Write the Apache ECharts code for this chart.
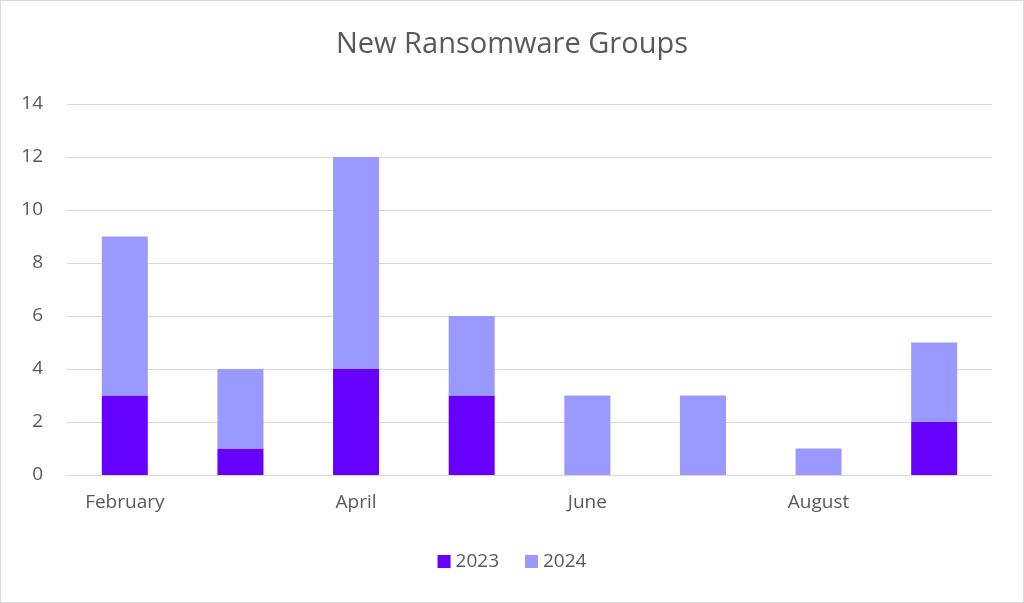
<!DOCTYPE html>
<html>
<head>
<meta charset="utf-8">
<script src="https://cdn.jsdelivr.net/npm/echarts@6/dist/echarts.min.js"></script>
<style>
html, body { margin: 0; padding: 0; background: #fff; }
#chart { width: 1022px; height: 601px; border: 1px solid #d9d9d9; }
</style>
</head>
<body>
<div id="chart"></div>
<script>
var months = ['February', 'March', 'April', 'May', 'June', 'July', 'August', 'September'];
var groups2023 = [3, 1, 4, 3, 0, 0, 0, 2];
var groups2024 = [6, 3, 8, 3, 3, 3, 1, 3];

var chart = echarts.init(document.getElementById('chart'));
var labelColor = '#595959';

chart.setOption({
    animation: false,
    textStyle: { fontFamily: 'Open Sans' },
    title: {
        text: 'New Ransomware Groups',
        left: 'center',
        top: 24,
        textStyle: { color: labelColor, fontSize: 29, fontWeight: 'normal', fontFamily: 'Open Sans' }
    },
    legend: {
        bottom: 26,
        itemWidth: 13,
        itemHeight: 13,
        itemGap: 26,
        icon: 'rect',
        textStyle: { color: labelColor, fontSize: 19 },
        data: ['2023', '2024']
    },
    grid: { left: 66, right: 31, top: 103, bottom: 127 },
    xAxis: {
        type: 'category',
        data: months,
        axisTick: { show: false },
        axisLine: { lineStyle: { color: '#d9d9d9' } },
        axisLabel: { color: labelColor, fontSize: 19, margin: 18 }
    },
    yAxis: {
        type: 'value',
        min: 0,
        max: 14,
        interval: 2,
        axisLabel: { color: labelColor, fontSize: 19, margin: 24 },
        splitLine: { lineStyle: { color: '#d9d9d9' } }
    },
    series: [
        {
            name: '2023',
            type: 'bar',
            stack: 'total',
            barWidth: 46,
            itemStyle: { color: '#6600ff' },
            data: groups2023
        },
        {
            name: '2024',
            type: 'bar',
            stack: 'total',
            barWidth: 46,
            itemStyle: { color: '#9999ff' },
            data: groups2024
        }
    ]
});
</script>
</body>
</html>
